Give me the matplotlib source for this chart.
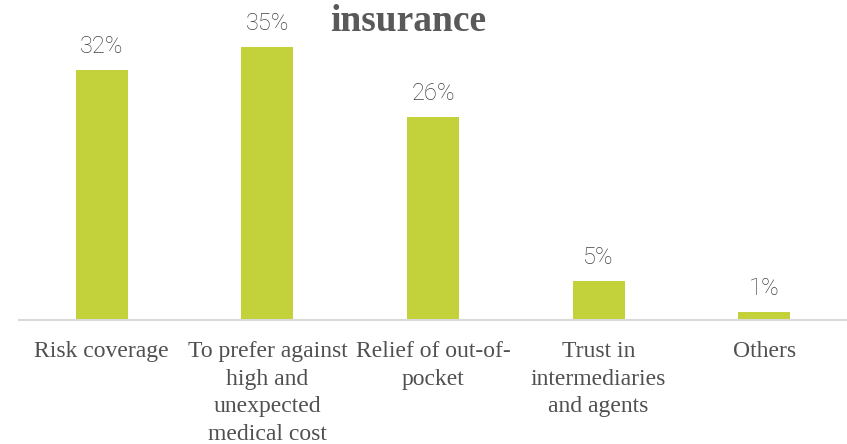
import matplotlib
matplotlib.use("Agg")
import matplotlib.pyplot as plt

categories = [
    "Risk coverage",
    "To prefer against\nhigh and\nunexpected\nmedical cost",
    "Relief of out-of-\npocket",
    "Trust in\nintermediaries\nand agents",
    "Others",
]
shares = [32, 35, 26, 5, 1]
title_text = "insurance"

W, H, DPI = 847, 444, 100
fig = plt.figure(figsize=(W / DPI, H / DPI), dpi=DPI)
fig.patch.set_facecolor("white")

# axes: x from 19px to 847px, baseline at 320px from top
ax = fig.add_axes([19 / W, 1 - 320 / H, (847 - 19) / W, 320 / H])
ax.set_facecolor("none")

xs = list(range(len(categories)))
ax.bar(xs, shares, width=0.314, color="#C3D13B", zorder=2)

ax.set_xlim(-0.5, len(categories) - 0.5)
ax.set_ylim(0, 320 / 7.8)

for s in ["top", "right", "left"]:
    ax.spines[s].set_visible(False)
ax.spines["bottom"].set_color("#D9D9D9")
ax.spines["bottom"].set_linewidth(1.5)
ax.set_yticks([])
ax.set_xticks(xs)
ax.set_xticklabels(categories, family="Liberation Serif", fontsize=17,
                   color="#505050", linespacing=1.42, va="top")
ax.tick_params(axis="x", length=0, pad=15)

for x, v in zip(xs, shares):
    ax.annotate(f"{v}%", xy=(x, v), xytext=(0, 12.5), textcoords="offset points",
                ha="center", va="baseline", fontsize=17, color="#404040",
                family="Roboto", fontweight="light", clip_on=False)

fig.text(408 / W, 1 - 31 / H, title_text, ha="center", va="baseline",
         family="Liberation Serif", fontweight="bold", fontsize=27, color="#595959")

fig.savefig("out.png", dpi=DPI, facecolor="white")
